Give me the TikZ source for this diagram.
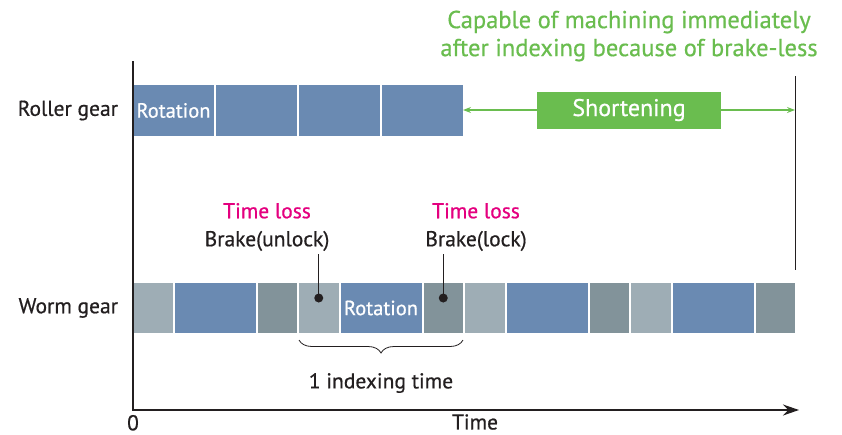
\documentclass[tikz,border=0pt]{standalone}
\usepackage{fontspec}
\setmainfont{PT Sans}[UprightFeatures={FakeBold=0.6}]
\usetikzlibrary{chains,positioning,arrows.meta,decorations.pathreplacing}

\definecolor{rotblue}{HTML}{6A8AB2}
\definecolor{brakelight}{HTML}{9EADB5}
\definecolor{brakedark}{HTML}{82939A}
\definecolor{gaingreen}{HTML}{6ABD4F}
\definecolor{lossmagenta}{HTML}{E4007F}
\definecolor{inkblack}{HTML}{231F20}

\begin{document}
\begin{tikzpicture}[x=1pt, y=-1pt,
    every node/.style={font=\fontsize{21.5}{28}\selectfont, text=inkblack,
        inner sep=0pt, outer sep=0pt},
    seg/.style={minimum height=50pt, text=white, font=\fontsize{20.5}{24}\selectfont},
    rot/.style={seg, fill=rotblue, minimum width=81pt},
    unlockseg/.style={seg, fill=brakelight, minimum width=39.5pt},
    lockseg/.style={seg, fill=brakedark, minimum width=39.5pt},
    gain/.style={draw=gaingreen, line width=1.2pt,
        -{Stealth[length=8pt, width=6pt]}},
    dot/.style={circle, fill=inkblack, minimum size=9pt},
    node distance = 2pt
    ]
    \useasboundingbox (0,0) rectangle (842,434);

    % roller gear
    \begin{scope}[start chain=roller going right]
    \node[on chain, rot, at={(133,110.5)}, anchor=west, minimum height=51pt] {Rotation};
    \node[on chain, rot, minimum height=51pt] {};
    \node[on chain, rot, minimum height=51pt] {};
    \node[on chain, rot, minimum height=51pt] {};
    \end{scope}

    % worm gear
    \begin{scope}[start chain=worm going right]
    \node[on chain, unlockseg, at={(133,308)}, anchor=west] {};
    \node[on chain, rot] {};
    \node[on chain, lockseg] {};
    \node[on chain, unlockseg] {};
    \node[on chain, rot] {Rotation};
    \node[on chain, lockseg] {};
    \node[on chain, unlockseg] {};
    \node[on chain, rot] {};
    \node[on chain, lockseg] {};
    \node[on chain, unlockseg] {};
    \node[on chain, rot] {};
    \node[on chain, lockseg] {};
    \end{scope}

    \node[left=15pt of roller-1] (rollerlbl) {Roller gear};
    \node[left=15pt of worm-1] (wormlbl) {Worm gear};

    % axes
    \coordinate (O) at (133,410);
    \coordinate (ytop) at (133,61);
    \coordinate (xend) at (799,410);
    \draw[inkblack, line width=1.6pt, -{Stealth[length=16pt, width=11pt]}]
        (ytop) -- (O) -- (xend);
    \node[below=5pt of O] (zero) {0};
    \node (timelbl) at (475,422) {Time};

    % end of roller gear cycle
    \coordinate (rtop) at (795,76);
    \coordinate (rbot) at (795,270);
    \draw[inkblack, line width=0.9pt] (rtop) -- (rbot);

    % shortening
    \node[fill=gaingreen, text=white, minimum width=184pt, minimum height=37pt,
        font=\fontsize{24}{28}\selectfont] (short) at (629,110) {Shortening};
    \draw[gain] (short.west) -- (short.west -| roller-4.east);
    \draw[gain] (short.east) -- (short.east -| rtop);
    \node[text=gaingreen, align=center, font=\fontsize{24.5}{28}\selectfont]
        (note) at (629,36) {Capable of machining immediately\\after indexing because of brake-less};

    % brakes
    \node[align=center] (unlockinfo) at (267,227)
        {\textcolor{lossmagenta}{Time loss}\\Brake(unlock)};
    \node[align=center] (lockinfo) at (476,227)
        {\textcolor{lossmagenta}{Time loss}\\Brake(lock)};
    \node[dot] (udot) at ([yshift=10pt]worm-4.center) {};
    \node[dot] (ldot) at ([yshift=10pt]worm-6.center) {};
    \draw[inkblack, line width=0.9pt] (udot.center) -- ([yshift=-3pt]udot |- unlockinfo.south);
    \draw[inkblack, line width=0.9pt] (ldot.center) -- ([yshift=-3pt]ldot |- lockinfo.south);

    % one indexing
    \draw[inkblack, line width=0.8pt, decorate, decoration={brace, mirror, amplitude=13pt}]
        ([yshift=-7pt]worm-4.south west) -- ([yshift=-7pt]worm-6.south east);
    \node (idxlbl) at ([yshift=-50pt]worm-5.south) {1 indexing time};
\end{tikzpicture}
\end{document}
